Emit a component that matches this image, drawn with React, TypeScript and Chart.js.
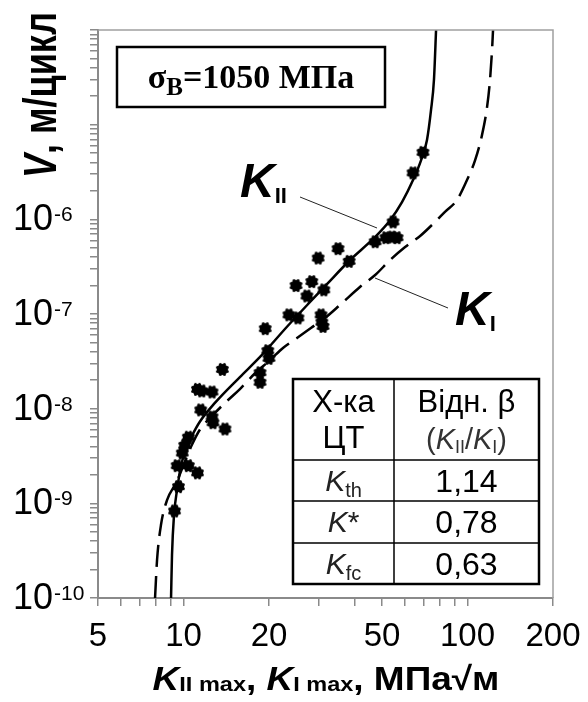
import React, { useEffect, useRef } from "react";
import { Chart, registerables } from "chart.js";

Chart.register(...registerables);

// ---- Experimental points (K max, MPa√m ; V, m/cycle) ----
const pointsK = [69.7, 64.3, 54.7, 51.6, 54.2, 56.5, 47.3, 35.0, 29.8, 38.3, 24.9, 28.3, 31.2, 27.2, 23.5, 25.3, 30.5, 30.7, 31.0, 19.4, 19.8, 20.0, 13.7, 18.6, 18.6, 11.2, 11.6, 12.6, 11.5, 12.6, 12.7, 14.0, 10.4, 10.1, 9.9, 9.5, 10.4, 11.2, 9.6, 9.3];
const pointsV = [5.1e-6, 3.1e-6, 9.4e-7, 6.4e-7, 6.5e-7, 6.4e-7, 5.8e-7, 4.9e-7, 3.9e-7, 3.6e-7, 2.0e-7, 2.2e-7, 1.8e-7, 1.55e-7, 9.8e-8, 9.1e-8, 9.8e-8, 8.2e-8, 7.4e-8, 7.0e-8, 4.1e-8, 3.4e-8, 2.6e-8, 2.4e-8, 1.9e-8, 1.6e-8, 1.54e-8, 1.5e-8, 9.7e-9, 8.2e-9, 7.1e-9, 6.1e-9, 5.0e-9, 4.1e-9, 3.4e-9, 2.5e-9, 2.5e-9, 2.1e-9, 1.5e-9, 8.3e-10];

// ---- K_II curve (solid) ----
const curveKIIK = [9.04, 9.11, 9.26, 9.49, 9.80, 10.2, 10.7, 11.4, 12.9, 15.8, 18.6, 23.1, 27.9, 32.0, 38.6, 46.5, 53.4, 58.8, 64.3, 68.6, 72.0, 74.4, 76.2, 77.5];
const curveKIIV = [1e-10, 2.85e-10, 7.5e-10, 1.38e-9, 2.48e-9, 3.75e-9, 5.14e-9, 7.23e-9, 1.15e-8, 2.16e-8, 3.52e-8, 7.29e-8, 1.34e-7, 2.07e-7, 3.72e-7, 6.2e-7, 9.8e-7, 1.52e-6, 2.6e-6, 4.2e-6, 6.9e-6, 1.43e-5, 3.0e-5, 1e-4];

// ---- K_I curve (dashed) ----
const curveKIK = [7.94, 8.07, 8.33, 8.75, 9.49, 10.1, 10.7, 11.4, 12.6, 14.0, 15.8, 17.9, 20.2, 22.4, 25.1, 28.1, 31.5, 35.6, 41.8, 47.3, 53.4, 60.3, 68.1, 76.9, 83.3, 91.8, 99.6, 106.3, 112.5, 117.2, 120.0, 122.0, 123.0];
const curveKIV = [1e-10, 2.52e-10, 5.9e-10, 1.08e-9, 1.72e-9, 2.73e-9, 4.13e-9, 5.96e-9, 8.37e-9, 1.15e-8, 1.61e-8, 2.38e-8, 3.27e-8, 4.38e-8, 5.58e-8, 7.11e-8, 9.08e-8, 1.25e-7, 1.93e-7, 2.58e-7, 3.72e-7, 5.1e-7, 6.67e-7, 9.4e-7, 1.2e-6, 1.6e-6, 2.6e-6, 4.2e-6, 7.8e-6, 1.54e-5, 2.96e-5, 6.15e-5, 1e-4];

// ---- Axes ----
const xMin = 5;
const xMax = 200;
const yMin = 1e-10;
const yMax = 1e-4;
const xTickValues = [5, 6, 7, 8, 9, 10, 20, 30, 40, 50, 60, 70, 80, 90, 100, 200];
const xLabeledValues = [5, 10, 20, 50, 100, 200];
const xTickLabels = ["5", "10", "20", "50", "100", "200"];
const yDecadeExps = [-10, -9, -8, -7, -6, -5];
const yLabelExponents = [-10, -9, -8, -7, -6];

// ---- Table ----
const tableHeadLeft = ["Х-ка", "ЦТ"];
const tableHeadRight = "Відн. β";
const tableRowSubs = ["th", "*", "fc"];
const tableRowValues = ["1,14", "0,78", "0,63"];

const boxText = { main: "σ", sub: "В", rest: "=1050 МПа" };

const SANS = '"Liberation Sans", Arial, sans-serif';
const SERIF = '"Liberation Serif", "Times New Roman", serif';

type Run = { t: string; f: string; dy?: number; c?: string };

function runsWidth(ctx: CanvasRenderingContext2D, runs: Run[]) {
  let w = 0;
  for (const r of runs) {
    ctx.font = r.f;
    w += ctx.measureText(r.t).width;
  }
  return w;
}

function drawRuns(ctx: CanvasRenderingContext2D, runs: Run[], x: number, y: number, align: string) {
  const w = runsWidth(ctx, runs);
  let cx = align === "center" ? x - w / 2 : align === "right" ? x - w : x;
  ctx.textAlign = "left";
  ctx.textBaseline = "alphabetic";
  for (const r of runs) {
    ctx.font = r.f;
    ctx.fillStyle = r.c || "#000";
    ctx.fillText(r.t, cx, y + (r.dy || 0));
    cx += ctx.measureText(r.t).width;
  }
}

const overlay = {
  id: "overlay",
  afterDraw(chart: any) {
    const ctx: CanvasRenderingContext2D = chart.ctx;
    const a = chart.chartArea;
    const xs = chart.scales.x;
    const ys = chart.scales.y;
    ctx.save();

    // frame top / right
    ctx.strokeStyle = "#a0a0a0";
    ctx.lineWidth = 1.5;
    ctx.beginPath();
    ctx.moveTo(a.left, a.top);
    ctx.lineTo(a.right, a.top);
    ctx.lineTo(a.right, a.bottom);
    ctx.stroke();

    // y tick labels
    for (const e of yLabelExponents) {
      const py = ys.getPixelForValue(Math.pow(10, e));
      ctx.fillStyle = "#000";
      ctx.font = `36px ${SANS}`;
      ctx.textAlign = "left";
      ctx.textBaseline = "middle";
      ctx.fillText("10", 13, py + 1);
      const w = ctx.measureText("10").width;
      ctx.font = `21px ${SANS}`;
      ctx.textBaseline = "alphabetic";
      ctx.fillText(String(e), 13 + w + 1, py + 2);
    }

    // x tick labels
    ctx.fillStyle = "#000";
    ctx.font = `33px ${SANS}`;
    ctx.textAlign = "center";
    ctx.textBaseline = "middle";
    xLabeledValues.forEach((v, i) => {
      ctx.fillText(xTickLabels[i], xs.getPixelForValue(v), 637);
    });

    // x title
    ctx.save();
    ctx.translate(326, 690);
    ctx.scale(1.12, 1);
    drawRuns(
      ctx,
      [
        { t: "K", f: `italic bold 33px ${SANS}` },
        { t: "II max", f: `bold 21px ${SANS}`, dy: 1 },
        { t: ", ", f: `bold 33px ${SANS}` },
        { t: "K", f: `italic bold 33px ${SANS}` },
        { t: "I max", f: `bold 21px ${SANS}`, dy: 1 },
        { t: ", МПа√м", f: `bold 33px ${SANS}` },
      ],
      0,
      0,
      "center"
    );
    ctx.restore();

    // y title (rotated)
    ctx.save();
    ctx.translate(56, 95);
    ctx.rotate(-Math.PI / 2);
    ctx.scale(1, 1.3);
    drawRuns(
      ctx,
      [
        { t: "V", f: `italic bold 36px ${SANS}` },
        { t: ", м/цикл", f: `bold 36px ${SANS}` },
      ],
      0,
      0,
      "center"
    );
    ctx.restore();

    // sigma box
    ctx.fillStyle = "#fff";
    ctx.fillRect(117, 47, 268, 60);
    ctx.strokeStyle = "#000";
    ctx.lineWidth = 2.5;
    ctx.strokeRect(117, 47, 268, 60);
    drawRuns(
      ctx,
      [
        { t: boxText.main, f: `bold 34px ${SERIF}` },
        { t: boxText.sub, f: `bold 25px ${SERIF}`, dy: 7 },
        { t: boxText.rest, f: `bold 34px ${SERIF}` },
      ],
      251,
      88,
      "center"
    );

    // curve labels + leaders
    ctx.strokeStyle = "#222";
    ctx.lineWidth = 1;
    ctx.beginPath();
    ctx.moveTo(300, 197);
    ctx.lineTo(377, 228);
    ctx.moveTo(375, 278);
    ctx.lineTo(448, 308);
    ctx.stroke();
    drawRuns(
      ctx,
      [
        { t: "K", f: `italic bold 48px ${SANS}` },
        { t: "II", f: `bold 22px ${SANS}`, dy: 6 },
      ],
      240,
      197,
      "left"
    );
    drawRuns(
      ctx,
      [
        { t: "K", f: `italic bold 48px ${SANS}` },
        { t: "I", f: `bold 22px ${SANS}`, dy: 6 },
      ],
      455,
      325,
      "left"
    );

    // table
    const L = 293, R = 539, T = 379, B = 584, C = 394;
    const rowLines = [460, 501, 543];
    ctx.fillStyle = "#fff";
    ctx.fillRect(L, T, R - L, B - T);
    ctx.strokeStyle = "#000";
    ctx.lineWidth = 1.5;
    ctx.beginPath();
    ctx.moveTo(C, T);
    ctx.lineTo(C, B);
    for (const ry of rowLines) {
      ctx.moveTo(L, ry);
      ctx.lineTo(R, ry);
    }
    ctx.stroke();
    ctx.lineWidth = 2.5;
    ctx.strokeRect(L, T, R - L, B - T);

    const c1 = (L + C) / 2;
    const c2 = (C + R) / 2;
    drawRuns(ctx, [{ t: tableHeadLeft[0], f: `31px ${SANS}` }], c1, 412, "center");
    drawRuns(ctx, [{ t: tableHeadLeft[1], f: `31px ${SANS}` }], c1, 448, "center");
    drawRuns(ctx, [{ t: tableHeadRight, f: `31px ${SANS}` }], c2, 412, "center");
    drawRuns(
      ctx,
      [
        { t: "(", f: `29px ${SANS}`, c: "#333" },
        { t: "K", f: `italic 29px ${SANS}`, c: "#333" },
        { t: "II", f: `18px ${SANS}`, dy: 4, c: "#333" },
        { t: "/", f: `29px ${SANS}`, c: "#333" },
        { t: "K", f: `italic 29px ${SANS}`, c: "#333" },
        { t: "I", f: `18px ${SANS}`, dy: 4, c: "#333" },
        { t: ")", f: `29px ${SANS}`, c: "#333" },
      ],
      c2,
      449,
      "center"
    );
    const rowTops = [rowLines[0], rowLines[1], rowLines[2]];
    const rowBots = [rowLines[1], rowLines[2], B];
    tableRowSubs.forEach((sub, i) => {
      const cy = (rowTops[i] + rowBots[i]) / 2;
      const isStar = sub === "*";
      drawRuns(
        ctx,
        [
          { t: "K", f: `italic 30px ${SANS}`, c: "#222" },
          isStar
            ? { t: sub, f: `30px ${SANS}`, c: "#222" }
            : { t: sub, f: `20px ${SANS}`, dy: 6, c: "#222" },
        ],
        c1,
        cy + 10,
        "center"
      );
      drawRuns(ctx, [{ t: tableRowValues[i], f: `32px ${SANS}` }], c2, cy + 11, "center");
    });

    ctx.restore();
  },
};

function makeMarker() {
  const c = document.createElement("canvas");
  c.width = 15;
  c.height = 15;
  const g = c.getContext("2d")!;
  g.fillStyle = "#000";
  g.beginPath();
  g.arc(7.5, 7.5, 5.6, 0, Math.PI * 2);
  g.fill();
  for (let i = 0; i < 8; i++) {
    const ang = (i * Math.PI) / 4 + Math.PI / 8;
    g.beginPath();
    g.arc(7.5 + 5.3 * Math.cos(ang), 7.5 + 5.3 * Math.sin(ang), 1.5, 0, Math.PI * 2);
    g.fill();
  }
  return c;
}

export default function App() {
  const ref = useRef<HTMLCanvasElement | null>(null);

  useEffect(() => {
    if (!ref.current) return;
    const marker = makeMarker();
    const yTickValues: number[] = [];
    for (const e of yDecadeExps) {
      for (let m = 1; m <= 9; m++) yTickValues.push(parseFloat(`${m}e${e}`));
    }
    yTickValues.push(yMax);

    const axisColor = "#8a8a8a";
    const chart = new Chart(ref.current, {
      type: "scatter",
      data: {
        datasets: [
          {
            label: "KII",
            data: curveKIIK.map((x, i) => ({ x, y: curveKIIV[i] })),
            showLine: true,
            borderColor: "#000",
            borderWidth: 2.5,
            pointRadius: 0,
            cubicInterpolationMode: "monotone",
            fill: false,
          },
          {
            label: "KI",
            data: curveKIK.map((x, i) => ({ x, y: curveKIV[i] })),
            showLine: true,
            borderColor: "#000",
            borderWidth: 2.5,
            borderDash: [22, 9],
            pointRadius: 0,
            cubicInterpolationMode: "monotone",
            fill: false,
          },
          {
            label: "exp",
            data: pointsK.map((x, i) => ({ x, y: pointsV[i] })),
            showLine: false,
            pointStyle: marker as any,
            pointRadius: 7,
            backgroundColor: "#000",
            borderColor: "#000",
          },
        ],
      } as any,
      options: {
        responsive: false,
        animation: false,
        devicePixelRatio: 1,
        layout: { padding: { top: 30, right: 35, left: 0, bottom: 0 } },
        plugins: { legend: { display: false }, tooltip: { enabled: false } },
        scales: {
          x: {
            type: "logarithmic",
            min: xMin,
            max: xMax,
            position: "bottom",
            ticks: { display: false },
            grid: { display: true, drawOnChartArea: false, drawTicks: true, tickLength: 8, color: axisColor, lineWidth: 1.5 },
            border: { display: true, color: axisColor, width: 2 },
            afterBuildTicks: (s: any) => {
              s.ticks = xTickValues.map((v) => ({ value: v }));
            },
            afterFit: (s: any) => {
              s.height = 104;
            },
          },
          y: {
            type: "logarithmic",
            min: yMin,
            max: yMax,
            position: "left",
            ticks: { display: false },
            grid: { display: true, drawOnChartArea: false, drawTicks: true, tickLength: 8, color: axisColor, lineWidth: 1.5 },
            border: { display: true, color: axisColor, width: 2 },
            afterBuildTicks: (s: any) => {
              s.ticks = yTickValues.map((v) => ({ value: v }));
            },
            afterFit: (s: any) => {
              s.width = 98;
            },
          },
        },
      } as any,
      plugins: [overlay],
    });
    return () => chart.destroy();
  }, []);

  return (
    <div style={{ position: "fixed", left: 0, top: 0, width: 588, height: 702, background: "#fff" }}>
      <canvas ref={ref} width={588} height={702} style={{ display: "block" }} />
    </div>
  );
}
